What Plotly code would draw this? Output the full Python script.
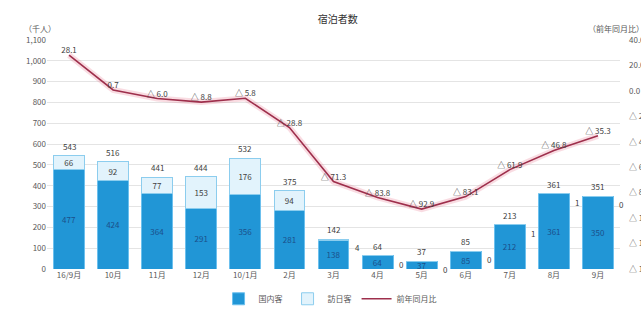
import plotly.graph_objects as go

categories = ["16/9月", "10月", "11月", "12月", "10/1月", "2月", "3月", "4月", "5月", "6月", "7月", "8月", "9月"]
domestic = [477, 424, 364, 291, 356, 281, 138, 64, 37, 85, 212, 361, 350]
foreign = [66, 92, 77, 153, 176, 94, 4, 0, 0, 0, 1, 1, 0]
totals = [543, 516, 441, 444, 532, 375, 142, 64, 37, 85, 213, 361, 351]
yoy = [28.1, 0.7, -6.0, -8.8, -5.8, -28.8, -71.3, -83.8, -92.9, -83.1, -61.9, -46.8, -35.3]

left_ticks = list(range(0, 1101, 100))
right_ticks = list(range(-140, 41, 20))


def fmt_pct(v):
    return f"△ {abs(v):.1f}" if v < 0 else f"{v:.1f}"


FONT = "Noto Sans CJK JP"
GRAY = "#595959"

fig = go.Figure()

fig.add_trace(go.Bar(
    x=categories, y=domestic, name="国内客",
    marker=dict(color="#2196d6", line=dict(color="#6cc0ee", width=1)),
    text=[str(v) for v in domestic], textposition="inside", insidetextanchor="middle", textangle=0,
    textfont=dict(color="#1b4f8a", size=8, family=FONT),
))
fig.add_trace(go.Bar(
    x=categories, y=foreign, name="訪日客",
    marker=dict(color="#e2f3fc", line=dict(color="#8ccdee", width=1)),
    text=[str(v) if v >= 10 else "" for v in foreign], textposition="inside", insidetextanchor="middle",
    textangle=0,
    textfont=dict(color="#404040", size=8, family=FONT),
))

# glow behind line
fig.add_trace(go.Scatter(
    x=categories, y=yoy, yaxis="y2", mode="lines",
    line=dict(color="rgba(235,130,150,0.28)", width=6), showlegend=False, hoverinfo="skip",
))
fig.add_trace(go.Scatter(
    x=categories, y=yoy, yaxis="y2", mode="lines+text", name="前年同月比",
    line=dict(color="#9e2f4c", width=1.6),
    text=[fmt_pct(v) for v in yoy], textposition="top center",
    textfont=dict(color="#404040", size=8, family=FONT),
))

annotations = []
for c, t in zip(categories, totals):
    annotations.append(dict(x=c, y=t, xref="x", yref="y", text=str(t), showarrow=False,
                            yanchor="bottom", yshift=2, font=dict(size=8, color="#404040", family=FONT)))
for c, f, t in zip(categories, foreign, totals):
    if f < 10:
        annotations.append(dict(x=c, y=t, xref="x", yref="y", text=str(f), showarrow=False,
                                xanchor="left", yanchor="top", xshift=19, yshift=-1,
                                font=dict(size=8, color="#404040", family=FONT)))
annotations.append(dict(x=-0.044, y=1.085, xref="paper", yref="paper", text="（千人）", showarrow=False,
                        font=dict(size=8, color=GRAY, family=FONT)))
annotations.append(dict(x=0.94, y=1.085, xref="paper", yref="paper", text="（前年同月比）", showarrow=False,
                        xanchor="left", font=dict(size=8, color=GRAY, family=FONT)))

fig.update_layout(
    width=641, height=325,
    margin=dict(l=47, r=21, t=40, b=39),
    paper_bgcolor="white", plot_bgcolor="white",
    barmode="stack", bargap=0.3,
    font=dict(family=FONT, size=8, color=GRAY),
    title=dict(text="宿泊者数", x=0.527, xanchor="center", y=0.94, yanchor="middle",
               font=dict(size=10, color="#333333", family=FONT)),
    uniformtext=dict(minsize=8, mode="show"),
    showlegend=True,
    legend=dict(orientation="h", x=0.494, xanchor="center", y=-0.13, yanchor="middle",
                font=dict(size=8, color=GRAY, family=FONT), traceorder="normal"),
    xaxis=dict(type="category", range=[-0.5, len(categories) - 0.5],
               tickfont=dict(size=8, color=GRAY), showline=False, ticks="", automargin=False),
    yaxis=dict(range=[0, 1100], tickvals=left_ticks, ticktext=[f"{v:,}" for v in left_ticks],
               showgrid=True, gridcolor="#e4e4e4", zeroline=False, tickfont=dict(size=8, color=GRAY),
               automargin=False),
    yaxis2=dict(range=[-140, 40], overlaying="y", side="right", tickvals=right_ticks,
                ticktext=[fmt_pct(v) for v in right_ticks], showgrid=False, zeroline=False,
                automargin=False, ticklabelstandoff=8, tickfont=dict(size=8, color=GRAY)),
    annotations=annotations,
)

fig.write_html("out.html")
